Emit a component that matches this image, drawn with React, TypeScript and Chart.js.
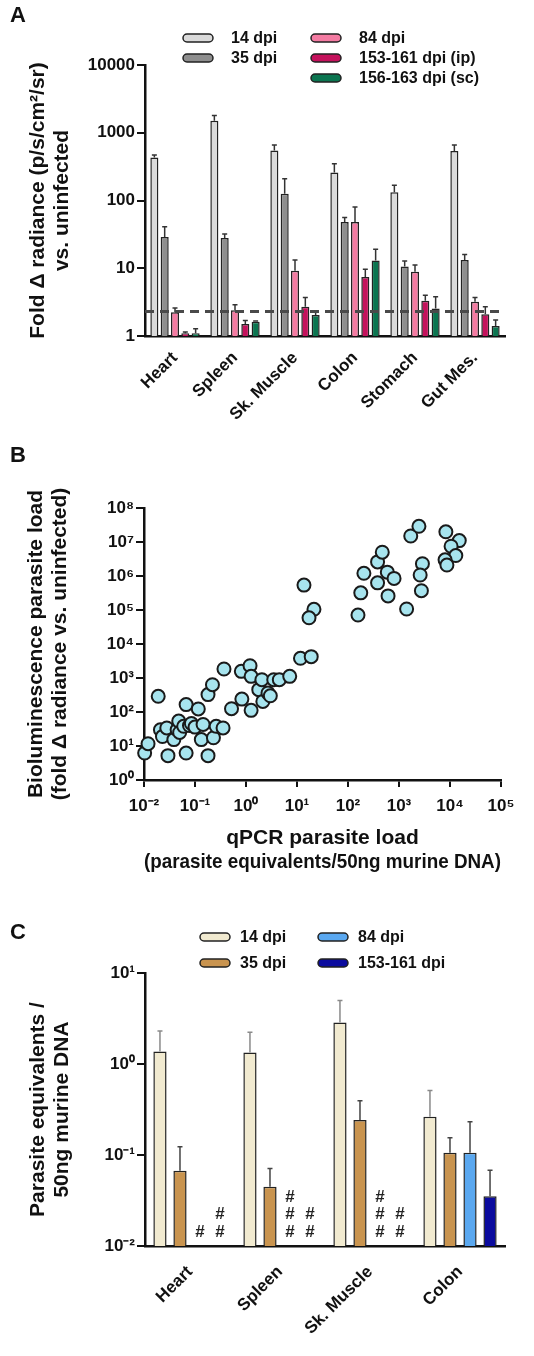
import React, { useEffect, useRef } from 'react';
import { Chart, registerables } from 'chart.js';

Chart.register(...registerables);

const FONT = "'Liberation Sans', Arial, Helvetica, sans-serif";
Chart.defaults.font.family = FONT;
Chart.defaults.color = '#111';

// ---------------- Panel A data ----------------
const organsA = ['Heart', 'Spleen', 'Sk. Muscle', 'Colon', 'Stomach', 'Gut Mes.'];
const seriesA = ['14 dpi', '35 dpi', '84 dpi', '153-161 dpi (ip)', '156-163 dpi (sc)'];
const a14 = [430, 1500, 545, 260, 132, 540];
const a14Err = [470, 1800, 660, 350, 168, 660];
const a35 = [29, 28, 126, 48, 10.6, 13.2];
const a35Err = [41, 32, 210, 56, 12.8, 16];
const a84 = [2.25, 2.4, 9.2, 48, 8.9, 3.2];
const a84Err = [2.6, 2.9, 13.2, 80, 11.2, 3.7];
const a153 = [1.1, 1.5, 2.7, 7.4, 3.3, 2.1];
const a153Err = [1.15, 1.7, 3.7, 9.7, 4.0, 2.7];
const a156 = [1.1, 1.62, 2.04, 13, 2.55, 1.4];
const a156Err = [1.28, 1.66, 2.3, 19, 3.8, 1.72];
const thresholdA = 2.3;
const yTicksA = [1, 10, 100, 1000, 10000];
const yTickLabelsA = ['1', '10', '100', '1000', '10000'];
const yTitleA = ['Fold \u0394 radiance (p/s/cm\u00B2/sr)', 'vs. uninfected'];

// ---------------- Panel B data ----------------
const qpcrB = [
  0.0103, 0.012, 0.019, 0.021, 0.023, 0.028, 0.0295, 0.0385, 0.0446, 0.048,
  0.05, 0.067, 0.067, 0.06, 0.078, 0.085, 0.1, 0.116, 0.133, 0.144,
  0.18, 0.18, 0.22, 0.23, 0.26, 0.355, 0.37, 0.52, 0.81, 0.83,
  1.2, 1.26, 1.26, 1.78, 2.05, 2.14, 2.7, 3.0, 3.5, 4.5,
  7.2, 11.7, 19, 13.7, 21.5, 17.2,
  157, 178, 205, 380, 470, 380, 590, 800, 610,
  1410, 1700, 2460, 2880, 2600, 2750,
  8300, 15200, 10500, 13000, 8000, 8700,
];
const biolumB = [
  6.2, 11.7, 290, 30, 19, 34, 5.2, 15.4, 30, 54,
  25, 6.2, 165, 38, 40, 46, 36, 123, 15.4, 43,
  5.2, 325, 635, 17.5, 38, 34, 1840, 125, 1570, 240,
  2300, 1120, 112, 455, 890, 205, 363, 300, 890, 890,
  1120, 3800, 4250, 5.4e5, 1.05e5, 5.9e4,
  7.1e4, 3.2e5, 1.2e6, 2.6e6, 5e6, 6.3e5, 1.3e6, 8.5e5, 2.6e5,
  1.07e5, 1.5e7, 2.9e7, 2.3e6, 1.07e6, 3.7e5,
  2.0e7, 1.1e7, 7.5e6, 4.0e6, 3.0e6, 2.1e6,
];
const xTicksB = [1e-2, 1e-1, 1, 10, 100, 1e3, 1e4, 1e5];
const xTickLabelsB = ['10\u207B\u00B2', '10\u207B\u00B9', '10\u2070', '10\u00B9', '10\u00B2', '10\u00B3', '10\u2074', '10\u2075'];
const yTicksB = [1, 10, 100, 1e3, 1e4, 1e5, 1e6, 1e7, 1e8];
const yTickLabelsB = ['10\u2070', '10\u00B9', '10\u00B2', '10\u00B3', '10\u2074', '10\u2075', '10\u2076', '10\u2077', '10\u2078'];
const xTitleB = ['qPCR parasite load', '(parasite equivalents/50ng murine DNA)'];
const yTitleB = ['Bioluminescence parasite load', '(fold \u0394 radiance vs. uninfected)'];

// ---------------- Panel C data ----------------
const organsC = ['Heart', 'Spleen', 'Sk. Muscle', 'Colon'];
const seriesC = ['14 dpi', '35 dpi', '84 dpi', '153-161 dpi'];
const c14 = [1.37, 1.34, 2.86, 0.263];
const c14Err = [2.31, 2.24, 4.99, 0.51];
const c35 = [0.067, 0.0447, 0.242, 0.106];
const c35Err = [0.123, 0.071, 0.395, 0.155];
const c84 = [null, null, null, 0.106];
const c84Err = [null, null, null, 0.232];
const c153 = [null, null, null, 0.0352];
const c153Err = [null, null, null, 0.068];
const hashC84 = [1, 3, 3, 0];
const hashC153 = [2, 2, 2, 0];
const yTicksC = [0.01, 0.1, 1, 10];
const yTickLabelsC = ['10\u207B\u00B2', '10\u207B\u00B9', '10\u2070', '10\u00B9'];
const yTitleC = ['Parasite equivalents /', '50ng murine DNA'];

// ---------------- plugins ----------------
const errorBarsPlugin = {
  id: 'errorBars',
  afterDatasetsDraw(chart: any, _args: any, opts: any) {
    const ctx = chart.ctx;
    const yScale = chart.scales.y;
    chart.data.datasets.forEach((ds: any, i: number) => {
      const errs = ds.errorBars;
      if (!errs) return;
      const meta = chart.getDatasetMeta(i);
      meta.data.forEach((el: any, j: number) => {
        const v = ds.data[j];
        const e = errs[j];
        if (v == null || e == null) return;
        const x = el.x;
        const y0 = el.y;
        const y1 = yScale.getPixelForValue(e);
        ctx.save();
        ctx.strokeStyle = ds.errorColor || opts.color || '#333';
        ctx.lineWidth = opts.lineWidth || 1.5;
        ctx.beginPath();
        ctx.moveTo(x, y0);
        ctx.lineTo(x, y1);
        ctx.moveTo(x - (opts.cap || 2.5), y1);
        ctx.lineTo(x + (opts.cap || 2.5), y1);
        ctx.stroke();
        ctx.restore();
      });
    });
  },
};

const refLinePlugin = {
  id: 'refLine',
  afterDatasetsDraw(chart: any, _args: any, opts: any) {
    if (opts.value == null) return;
    const ctx = chart.ctx;
    const { left, right } = chart.chartArea;
    const y = chart.scales.y.getPixelForValue(opts.value);
    ctx.save();
    ctx.strokeStyle = opts.color;
    ctx.lineWidth = opts.width;
    ctx.setLineDash(opts.dash);
    ctx.beginPath();
    ctx.moveTo(left, y);
    ctx.lineTo(right, y);
    ctx.stroke();
    ctx.restore();
  },
};

const boxLegendPlugin = {
  id: 'boxLegend',
  afterDraw(chart: any, _args: any, opts: any) {
    const ctx = chart.ctx;
    (opts.items || []).forEach((it: any) => {
      const ds = chart.data.datasets[it.index];
      const w = opts.swatchW, h = opts.swatchH, r = h / 2;
      const x = it.x, y = it.y - h / 2;
      ctx.save();
      ctx.beginPath();
      ctx.moveTo(x + r, y);
      ctx.lineTo(x + w - r, y);
      ctx.arc(x + w - r, y + r, r, -Math.PI / 2, Math.PI / 2);
      ctx.lineTo(x + r, y + h);
      ctx.arc(x + r, y + r, r, Math.PI / 2, Math.PI * 1.5);
      ctx.closePath();
      ctx.fillStyle = ds.backgroundColor;
      ctx.fill();
      ctx.strokeStyle = '#222';
      ctx.lineWidth = 1.5;
      ctx.stroke();
      ctx.fillStyle = '#111';
      ctx.font = `bold ${opts.fontSize}px ${FONT}`;
      ctx.textBaseline = 'middle';
      ctx.textAlign = 'left';
      ctx.fillText(ds.label, it.x + opts.textDX, it.y + 1);
      ctx.restore();
    });
  },
};

const hashPlugin = {
  id: 'hashMarks',
  afterDatasetsDraw(chart: any, _args: any, opts: any) {
    const ctx = chart.ctx;
    const base = chart.chartArea.bottom;
    ctx.save();
    ctx.fillStyle = '#222';
    ctx.font = `bold ${opts.fontSize}px ${FONT}`;
    ctx.textAlign = 'center';
    ctx.textBaseline = 'middle';
    (opts.sets || []).forEach((s: any) => {
      const meta = chart.getDatasetMeta(s.index);
      s.counts.forEach((n: number, j: number) => {
        const el = meta.data[j];
        if (!el) return;
        for (let k = 0; k < n; k++) {
          ctx.fillText('#', el.x, base - opts.offset - k * opts.step);
        }
      });
    });
    ctx.restore();
  },
};

const tickFont = { size: 17, weight: 'bold' as const };
const titleFont = { size: 21, weight: 'bold' as const, lineHeight: 1.15 };
const AXIS = '#111';

const logY = (min: number, max: number, ticks: number[], labels: string[], width: number) => ({
  type: 'logarithmic',
  min,
  max,
  afterBuildTicks: (s: any) => {
    s.ticks = ticks.map((v) => ({ value: v }));
  },
  afterFit: (s: any) => {
    s.width = width;
  },
  ticks: {
    font: tickFont,
    color: '#111',
    padding: 2,
    callback: (_v: any, i: number) => labels[i],
  },
  grid: { display: true, drawOnChartArea: false, drawTicks: true, tickLength: 8, lineWidth: 2, color: AXIS },
  border: { display: true, color: AXIS, width: 2.5 },
});

// ---------------- configs ----------------
const makeA = () => {
  const colors = ['#dadada', '#8e8e8e', '#f47ba2', '#c4125c', '#0b7550'];
  const vals = [a14, a35, a84, a153, a156];
  const errs = [a14Err, a35Err, a84Err, a153Err, a156Err];
  return {
    type: 'bar',
    data: {
      labels: organsA,
      datasets: seriesA.map((label, i) => ({
        label,
        data: vals[i],
        errorBars: errs[i],
        backgroundColor: colors[i],
        borderColor: '#222',
        borderWidth: 1.5,
        categoryPercentage: 0.86,
        barPercentage: 0.78,
      })),
    },
    options: {
      responsive: false,
      animation: false,
      layout: { padding: { left: 0, top: 65, right: 29, bottom: 0 } },
      plugins: {
        legend: { display: false },
        tooltip: { enabled: false },
        errorBars: { color: '#333', lineWidth: 1.5, cap: 2.5 },
        refLine: { value: thresholdA, color: '#4a4a4a', width: 3, dash: [9, 6] },
        boxLegend: {
          swatchW: 30, swatchH: 8, textDX: 48, fontSize: 16,
          items: [
            { index: 0, x: 183, y: 38 },
            { index: 1, x: 183, y: 58 },
            { index: 2, x: 311, y: 38 },
            { index: 3, x: 311, y: 58 },
            { index: 4, x: 311, y: 78 },
          ],
        },
      },
      scales: {
        x: {
          grid: { display: false, drawTicks: false },
          border: { display: true, color: AXIS, width: 2.5 },
          ticks: { font: tickFont, color: '#111', minRotation: 45, maxRotation: 45, autoSkip: false, padding: 12 },
          afterFit: (s: any) => { s.height = 94; },
        },
        y: {
          ...logY(1, 10000, yTicksA, yTickLabelsA, 145),
          title: { display: true, text: yTitleA, font: titleFont, color: '#111', padding: { top: 26, bottom: 0 } },
        },
      },
    },
    plugins: [errorBarsPlugin, refLinePlugin, boxLegendPlugin],
  };
};

const makeB = () => ({
  type: 'scatter',
  data: {
    datasets: [
      {
        label: 'tissue samples',
        data: qpcrB.map((x, i) => ({ x, y: biolumB[i] })),
        pointRadius: 6.5,
        pointHoverRadius: 6.5,
        backgroundColor: '#a7e4ee',
        borderColor: '#1a1a1a',
        borderWidth: 2,
        clip: false,
      },
    ],
  },
  options: {
    responsive: false,
    animation: false,
    layout: { padding: { left: 0, top: 78, right: 33, bottom: 0 } },
    plugins: { legend: { display: false }, tooltip: { enabled: false } },
    scales: {
      x: {
        type: 'logarithmic',
        min: 1e-2,
        max: 1e5,
        afterBuildTicks: (s: any) => { s.ticks = xTicksB.map((v) => ({ value: v })); },
        afterFit: (s: any) => { s.height = 110; },
        ticks: { font: tickFont, color: '#111', padding: 9, maxRotation: 0, autoSkip: false, callback: (_v: any, i: number) => xTickLabelsB[i] },
        grid: { display: true, drawOnChartArea: false, drawTicks: true, tickLength: 7, lineWidth: 2, color: AXIS },
        border: { display: true, color: AXIS, width: 2.5 },
        title: { display: true, text: xTitleB, font: titleFont, color: '#111', padding: { top: 0, bottom: 16 } },
      },
      y: {
        ...logY(1, 1e8, yTicksB, yTickLabelsB, 144),
        title: { display: true, text: yTitleB, font: titleFont, color: '#111', padding: { top: 24, bottom: 0 } },
      },
    },
  },
});

const makeC = () => {
  const colors = ['#f1ead0', '#c9944f', '#5aa8f0', '#0b0b9e'];
  const errColors = ['#8a8a8a', '#444', '#444', '#444'];
  const vals = [c14, c35, c84, c153];
  const errs = [c14Err, c35Err, c84Err, c153Err];
  return {
    type: 'bar',
    data: {
      labels: organsC,
      datasets: seriesC.map((label, i) => ({
        label,
        data: vals[i],
        errorBars: errs[i],
        errorColor: errColors[i],
        backgroundColor: colors[i],
        borderColor: '#222',
        borderWidth: 1.5,
        categoryPercentage: 0.89,
        barPercentage: 0.66,
      })),
    },
    options: {
      responsive: false,
      animation: false,
      layout: { padding: { left: 0, top: 83, right: 29, bottom: 0 } },
      plugins: {
        legend: { display: false },
        tooltip: { enabled: false },
        errorBars: { color: '#444', lineWidth: 1.5, cap: 2.5 },
        hashMarks: {
          fontSize: 17, offset: 14, step: 17.5,
          sets: [
            { index: 2, counts: hashC84 },
            { index: 3, counts: hashC153 },
          ],
        },
        boxLegend: {
          swatchW: 30, swatchH: 8, textDX: 40, fontSize: 16,
          items: [
            { index: 0, x: 200, y: 47 },
            { index: 1, x: 200, y: 73 },
            { index: 2, x: 318, y: 47 },
            { index: 3, x: 318, y: 73 },
          ],
        },
      },
      scales: {
        x: {
          grid: { display: false, drawTicks: false },
          border: { display: true, color: AXIS, width: 2.5 },
          ticks: { font: tickFont, color: '#111', minRotation: 45, maxRotation: 45, autoSkip: false, padding: 16 },
          afterFit: (s: any) => { s.height = 110; },
        },
        y: {
          ...logY(0.01, 10, yTicksC, yTickLabelsC, 145),
          title: { display: true, text: yTitleC, font: titleFont, color: '#111', padding: { top: 26, bottom: 0 } },
        },
      },
    },
    plugins: [errorBarsPlugin, hashPlugin, boxLegendPlugin],
  };
};

// ---------------- components ----------------
function ChartCanvas({ top, height, make }: { top: number; height: number; make: () => any }) {
  const ref = useRef<HTMLCanvasElement>(null);
  useEffect(() => {
    const chart = new Chart(ref.current as HTMLCanvasElement, make());
    return () => chart.destroy();
  }, []);
  return (
    <canvas
      ref={ref}
      width={534}
      height={height}
      style={{ position: 'absolute', left: 0, top, width: 534, height }}
    />
  );
}

const letterStyle: React.CSSProperties = {
  position: 'absolute',
  left: 10,
  fontFamily: FONT,
  fontWeight: 'bold',
  fontSize: 22,
  lineHeight: 1,
  color: '#111',
};

export default function App() {
  return (
    <div style={{ position: 'absolute', left: 0, top: 0, width: 534, height: 1356, background: '#fff', overflow: 'hidden' }}>
      <ChartCanvas top={0} height={430} make={makeA} />
      <ChartCanvas top={430} height={460} make={makeB} />
      <ChartCanvas top={890} height={466} make={makeC} />
      <div style={{ ...letterStyle, top: 4 }}>A</div>
      <div style={{ ...letterStyle, top: 444 }}>B</div>
      <div style={{ ...letterStyle, top: 921 }}>C</div>
    </div>
  );
}
